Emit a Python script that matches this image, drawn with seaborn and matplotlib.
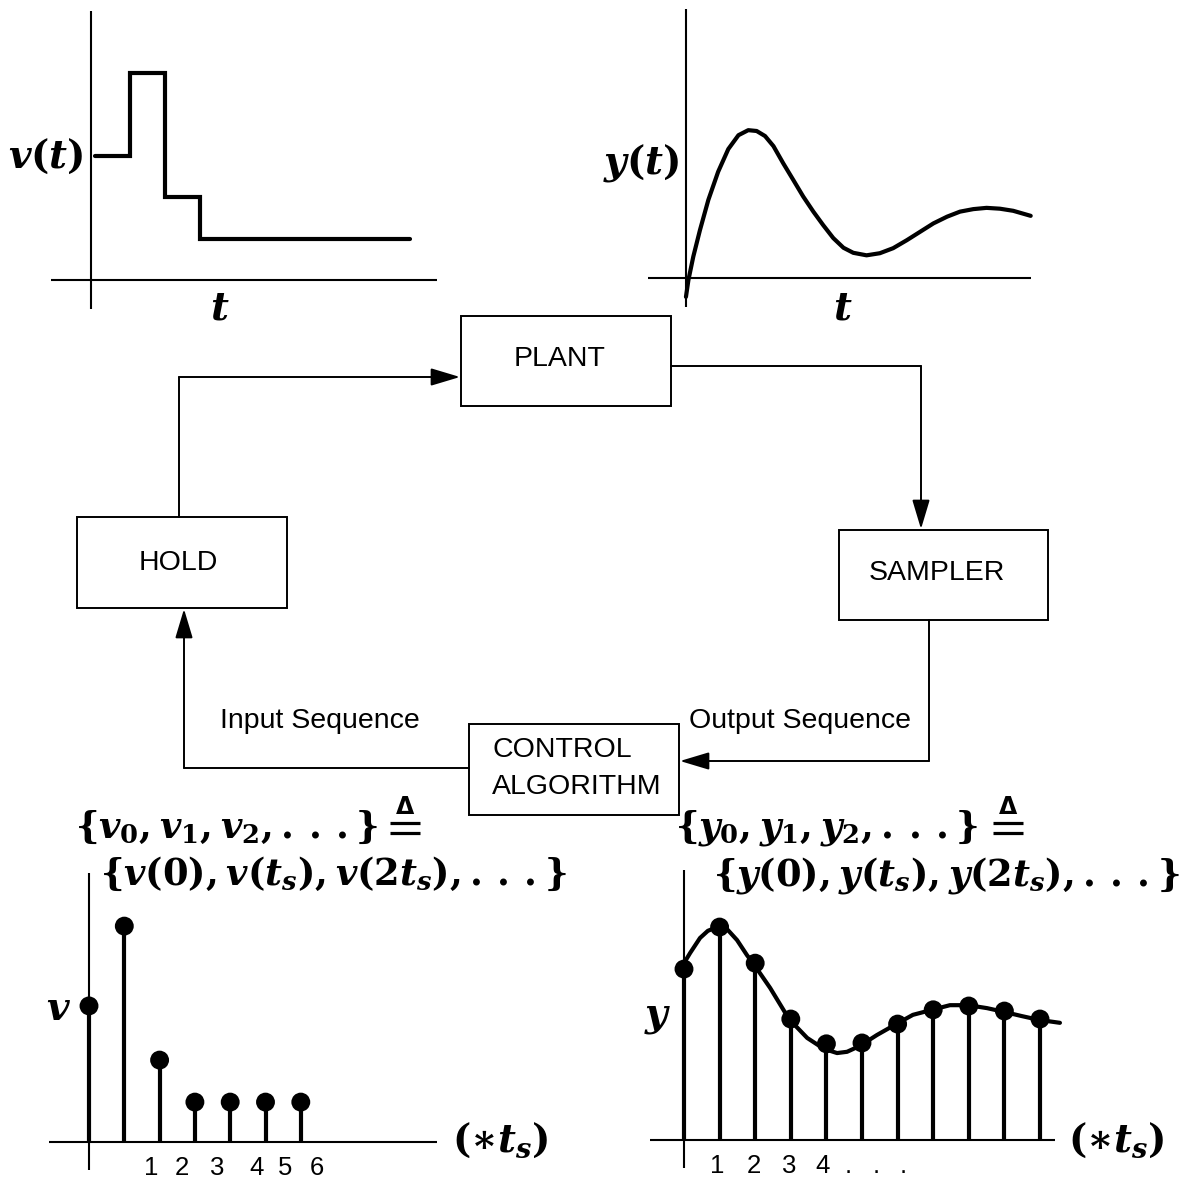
import matplotlib
matplotlib.use("Agg")
import matplotlib.pyplot as plt
from matplotlib.patches import Rectangle
import seaborn as sns

sns.set_style("white")
plt.rcParams["font.family"] = ["Liberation Sans", "DejaVu Sans"]
plt.rcParams["text.color"] = "black"
plt.rcParams["xtick.color"] = "black"
plt.rcParams["ytick.color"] = "black"
plt.rcParams["axes.labelcolor"] = "black"
plt.rcParams["mathtext.fontset"] = "custom"
plt.rcParams["mathtext.rm"] = "DejaVu Serif:bold"
plt.rcParams["mathtext.it"] = "DejaVu Serif:italic:bold"
plt.rcParams["mathtext.bf"] = "DejaVu Serif:bold"
plt.rcParams["mathtext.fallback"] = "stix"

# ---------------- data ----------------
# held input v(t) (step signal), time in sample periods
hold_t = [0, 1, 2, 3, 9]
hold_v = [3.0, 5.0, 2.0, 1.0, 1.0]

# continuous plant output y(t)
resp_t = [-0.03, 0.04, 0.18, 0.37, 0.61, 0.89, 1.18, 1.47, 1.75, 1.99, 2.23, 2.47,
          2.75, 3.04, 3.32, 3.61, 3.89, 4.18, 4.47, 4.75, 5.13, 5.51, 5.89, 6.28,
          6.66, 7.04, 7.43, 7.80, 8.18, 8.56, 8.94, 9.32, 9.82]
resp_y = [-0.45, -0.05, 0.51, 1.14, 1.86, 2.53, 3.07, 3.40, 3.52, 3.50, 3.38, 3.14,
          2.73, 2.33, 1.94, 1.58, 1.26, 0.95, 0.72, 0.60, 0.54, 0.59, 0.71, 0.90,
          1.10, 1.30, 1.46, 1.58, 1.64, 1.67, 1.65, 1.60, 1.48]

# input sequence samples
v_k = [0, 1, 2, 3, 4, 5, 6]
v_vals = [3.24, 5.14, 1.95, 0.95, 0.95, 0.95, 0.95]
v_tick_pos = [1.76, 2.63, 3.63, 4.76, 5.55, 6.46]
v_tick_lab = ["1", "2", "3", "4", "5", "6"]

# output sequence samples and underlying curve
y_k = [0, 1, 2, 3, 4, 5, 6, 7, 8, 9, 10]
y_vals = [4.07, 5.07, 4.21, 2.88, 2.29, 2.31, 2.76, 3.10, 3.19, 3.07, 2.88]
ycurve_t = [0.0, 0.17, 0.45, 0.67, 0.93, 1.21, 1.49, 1.77, 1.94, 2.42, 2.95, 3.46,
            3.93, 4.30, 4.58, 4.94, 5.42, 5.96, 6.43, 6.97, 7.47, 7.98, 8.51, 8.99,
            9.49, 9.97, 10.56]
ycurve_y = [4.21, 4.45, 4.81, 4.98, 5.07, 5.02, 4.76, 4.40, 4.21, 3.62, 2.88, 2.43,
            2.17, 2.07, 2.10, 2.24, 2.50, 2.76, 2.98, 3.10, 3.21, 3.21, 3.14, 3.05,
            2.95, 2.86, 2.79]
y_tick_pos = [0.93, 1.97, 2.95, 3.88, 4.61, 5.39, 6.15]
y_tick_lab = ["1", "2", "3", "4", ".", ".", "."]

# ---------------- figure ----------------
W, H = 1186, 1181
fig = plt.figure(figsize=(W / 100, H / 100), dpi=100)
fig.patch.set_facecolor("white")

canvas = fig.add_axes([0, 0, 1, 1])
canvas.set_xlim(0, W)
canvas.set_ylim(H, 0)
canvas.axis("off")

AX_LW = 1.5
DATA_LW = 3.0
BOX_LW = 1.4
MATH_FS = 28
SET_FS = 26.5
BOX_FS = 20.5
TICK_FS = 18.5
DOTS = r".\,.\,."


def chart_axes(x0, y0, x1, y1, ox, oy, ux, uy):
    ax = fig.add_axes([x0 / W, 1 - y1 / H, (x1 - x0) / W, (y1 - y0) / H])
    ax.set_xlim((x0 - ox) / ux, (x1 - ox) / ux)
    ax.set_ylim((oy - y1) / uy, (oy - y0) / uy)
    ax.patch.set_alpha(0)
    sns.despine(ax=ax, left=True, bottom=True)
    ax.set_yticks([])
    ax.set_xticks([])
    ax.tick_params(length=0)
    return ax


def axis_lines(xv, yv0, yv1, yh, xh0, xh1):
    canvas.plot([xv, xv], [yv0, yv1], color="k", lw=AX_LW, solid_capstyle="butt")
    canvas.plot([xh0, xh1], [yh, yh], color="k", lw=AX_LW, solid_capstyle="butt")


def mtext(x, y, s, ha="center", fs=MATH_FS):
    canvas.text(x, y, s, fontsize=fs, ha=ha, va="baseline", color="k")


def defeq(cx, ymid):
    # "defined as" sign: bold equals bars with a delta above
    for dy in (-5, 5):
        canvas.plot([cx - 15, cx + 15], [ymid + dy, ymid + dy], color="k", lw=2.3,
                    solid_capstyle="butt")
    canvas.text(cx, ymid - 14, "\u0394", fontsize=17, fontfamily="DejaVu Sans",
                fontweight="bold", ha="center", va="baseline")


# ---- top-left: held signal v(t)
axis_lines(91, 11, 309, 280, 51, 437)
ax1 = chart_axes(40, 0, 450, 320, 95, 280, 35, 41.5)
sns.lineplot(x=hold_t, y=hold_v, ax=ax1, color="k", lw=DATA_LW,
             drawstyle="steps-post", solid_joinstyle="miter", clip_on=False)
mtext(84, 168, r"$v(t)$", ha="right")
mtext(220, 320, r"$t$")

# ---- top-right: continuous output y(t)
axis_lines(686, 9, 307, 278, 648, 1031)
ax2 = chart_axes(640, 0, 1060, 320, 687, 278, 35, 42)
sns.lineplot(x=resp_t, y=resp_y, ax=ax2, color="k", lw=DATA_LW, sort=False, clip_on=False)
mtext(679, 173, r"$y(t)$", ha="right")
mtext(843, 320, r"$t$")

# ---- bottom-left: input sequence
axis_lines(89, 873, 1170, 1142, 49, 437)
ax3 = chart_axes(40, 880, 450, 1142, 89, 1142, 35.3, 42)
ax3.vlines(v_k, 0, v_vals, color="k", lw=DATA_LW, clip_on=False)
sns.scatterplot(x=v_k, y=v_vals, ax=ax3, color="k", s=185, edgecolor="none",
                zorder=3, clip_on=False)
ax3.set_xticks(v_tick_pos, v_tick_lab)
ax3.tick_params(axis="x", length=0, pad=10, labelsize=TICK_FS, labelcolor="k")
mtext(58, 1020, r"$v$")
mtext(452, 1152, r"$(\ast t_s)$", ha="left")
mtext(75, 838, r"$\{v_0,v_1,v_2," + DOTS + r"\}$", ha="left", fs=SET_FS)
defeq(405, 828)
mtext(100, 885, r"$\{v(0),v(t_s),v(2t_s)," + DOTS + r"\}$", ha="left", fs=SET_FS)

# ---- bottom-right: output sequence
axis_lines(684, 870, 1168, 1140, 650, 1055)
ax4 = chart_axes(640, 880, 1070, 1140, 684, 1140, 35.6, 42)
sns.lineplot(x=ycurve_t, y=ycurve_y, ax=ax4, color="k", lw=DATA_LW, sort=False,
             clip_on=False)
ax4.vlines(y_k, 0, y_vals, color="k", lw=DATA_LW, clip_on=False)
sns.scatterplot(x=y_k, y=y_vals, ax=ax4, color="k", s=185, edgecolor="none",
                zorder=3, clip_on=False)
ax4.set_xticks(y_tick_pos, y_tick_lab)
ax4.tick_params(axis="x", length=0, pad=10, labelsize=TICK_FS, labelcolor="k")
mtext(658, 1025, r"$y$")
mtext(1068, 1152, r"$(\ast t_s)$", ha="left")
mtext(675, 838, r"$\{y_0,y_1,y_2," + DOTS + r"\}$", ha="left", fs=SET_FS)
defeq(1008, 828)
mtext(713, 885, r"$\{y(0),y(t_s),y(2t_s)," + DOTS + r"\}$", ha="left", fs=SET_FS)

# ---------------- block diagram ----------------
boxes = {
    "PLANT": (461, 316, 671, 406),
    "HOLD": (77, 517, 287, 608),
    "SAMPLER": (839, 530, 1048, 620),
    "CONTROL": (469, 724, 679, 815),
}
for name, (x0, y0, x1, y1) in boxes.items():
    canvas.add_patch(Rectangle((x0, y0), x1 - x0, y1 - y0, fill=False,
                               edgecolor="k", lw=BOX_LW))

canvas.text(560, 359, "PLANT", fontsize=BOX_FS, ha="center", va="center")
canvas.text(178, 563, "HOLD", fontsize=BOX_FS, ha="center", va="center")
canvas.text(937, 573, "SAMPLER", fontsize=BOX_FS, ha="center", va="center")
canvas.text(492, 750, "CONTROL", fontsize=BOX_FS, ha="left", va="center")
canvas.text(492, 787, "ALGORITHM", fontsize=BOX_FS, ha="left", va="center")
canvas.text(320, 721, "Input Sequence", fontsize=BOX_FS, ha="center", va="center")
canvas.text(800, 721, "Output Sequence", fontsize=BOX_FS, ha="center", va="center")


def connector(points):
    xs = [p[0] for p in points]
    ys = [p[1] for p in points]
    canvas.plot(xs[:-1], ys[:-1], color="k", lw=BOX_LW, solid_joinstyle="miter")
    canvas.annotate("", xy=points[-1], xytext=points[-2],
                    arrowprops=dict(arrowstyle="-|>,head_length=1.0,head_width=0.3",
                                    mutation_scale=18, lw=BOX_LW, color="k",
                                    shrinkA=0, shrinkB=0))


connector([(179, 517), (179, 377), (460, 377)])
connector([(671, 366), (921, 366), (921, 529)])
connector([(929, 620), (929, 761), (680, 761)])
connector([(469, 768), (184, 768), (184, 609)])

fig.savefig("out.png", dpi=100, facecolor="white")
